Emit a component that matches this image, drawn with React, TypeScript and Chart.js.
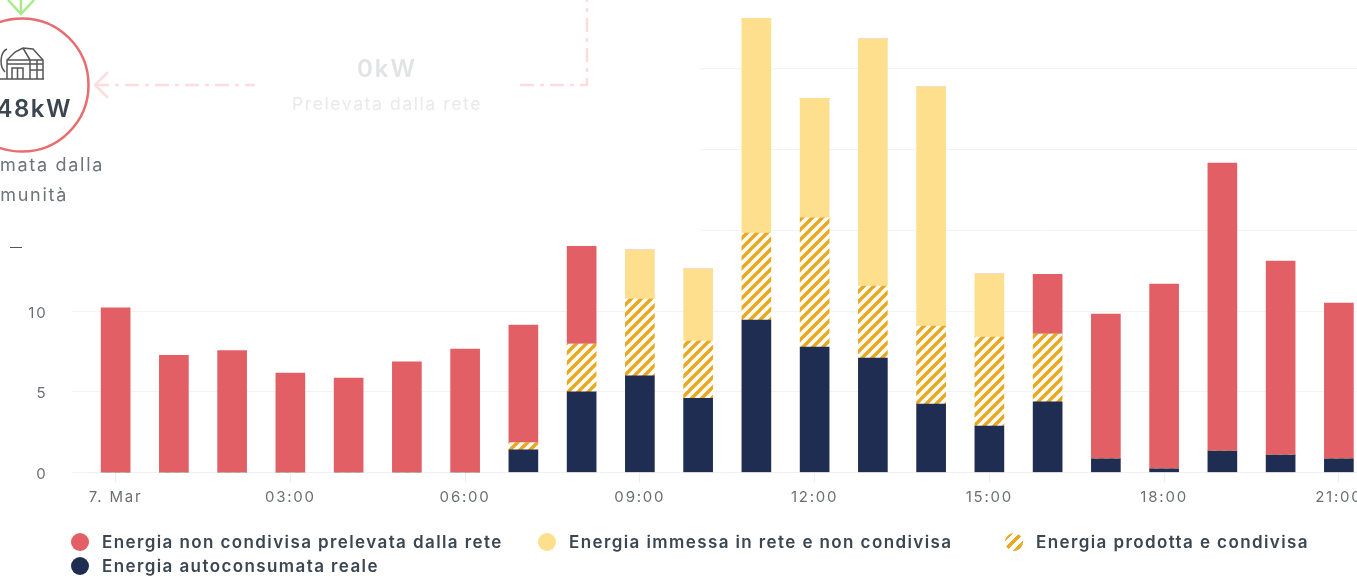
import React, { useEffect, useRef } from "react";
import { Chart, registerables } from "chart.js";

Chart.register(...registerables);

const categories = ["7. Mar","01:00","02:00","03:00","04:00","05:00","06:00","07:00","08:00","09:00","10:00","11:00","12:00","13:00","14:00","15:00","16:00","17:00","18:00","19:00","20:00","21:00"];
const autoconsumata = [0,0,0,0,0,0,0,1.4,5.0,5.98,4.6,9.44,7.77,7.09,4.24,2.88,4.37,0.84,0.22,1.33,1.08,0.84];
const condivisa = [0,0,0,0,0,0,0,0.43,2.96,4.76,3.54,5.39,8.0,4.46,4.83,5.51,4.21,0,0,0,0,0];
const immessa = [0,0,0,0,0,0,0,0,0,3.04,4.46,13.31,7.4,15.3,14.8,3.9,0,0,0,0,0,0];
const prelevata = [10.2,7.25,7.55,6.16,5.85,6.85,7.65,7.3,6.6,0,0,0,0,0,0,0,3.7,8.97,11.45,17.83,12.02,9.66];

const RED = "#E25F65";
const YELLOW = "#FDDF8E";
const NAVY = "#1F2D53";
const ORANGE = "#E9A822";
const FONT = "Inter, 'Noto Sans', sans-serif";

const legendItems = [
  { label: "Energia non condivisa prelevata dalla rete", bg: RED },
  { label: "Energia immessa in rete e non condivisa", bg: YELLOW },
  { label: "Energia prodotta e condivisa", bg: `repeating-linear-gradient(135deg, #fff 0 2px, ${ORANGE} 2px 6px, #fff 6px 8px)` },
  { label: "Energia autoconsumata reale", bg: NAVY },
];

function makeHatch(): CanvasPattern | string {
  const tile = document.createElement("canvas");
  tile.width = 10;
  tile.height = 10;
  const c = tile.getContext("2d");
  if (!c) return ORANGE;
  c.fillStyle = "#fffdf5";
  c.fillRect(0, 0, 10, 10);
  c.strokeStyle = ORANGE;
  c.lineWidth = 3.4;
  for (const d of [-10, 0, 10]) {
    c.beginPath();
    c.moveTo(d - 1, 11);
    c.lineTo(d + 11, -1);
    c.stroke();
  }
  return c.createPattern(tile, "repeat") || ORANGE;
}

const spacing = {
  id: "spacing",
  beforeDraw(chart: any) {
    chart.ctx.letterSpacing = "1.8px";
  },
};

export default function App() {
  const ref = useRef<HTMLCanvasElement>(null);
  useEffect(() => {
    if (!ref.current) return;
    const bar = { barThickness: 29, stack: "s", borderWidth: 0 };
    const chart = new Chart(ref.current, {
      type: "bar",
      plugins: [spacing],
      data: {
        labels: categories,
        datasets: [
          { label: legendItems[3].label, data: autoconsumata, backgroundColor: NAVY, ...bar },
          { label: legendItems[2].label, data: condivisa, backgroundColor: makeHatch() as any, ...bar },
          { label: legendItems[1].label, data: immessa, backgroundColor: YELLOW, ...bar },
          { label: legendItems[0].label, data: prelevata, backgroundColor: RED, ...bar },
        ],
      },
      options: {
        animation: false,
        responsive: false,
        layout: { padding: { top: 18, right: 32, left: 0, bottom: 0 } },
        plugins: { legend: { display: false }, title: { display: false }, tooltip: { enabled: false } },
        scales: {
          x: {
            stacked: true,
            afterFit(s: any) { s.height = 103.5; s.paddingLeft = 0; s.paddingRight = 0; },
            border: { color: "#f0f0f0" },
            grid: {
              offset: false,
              drawOnChartArea: false,
              tickLength: 10,
              tickColor: (ctx: any) => (ctx.index % 3 === 0 ? "#eeeeee" : "rgba(0,0,0,0)"),
            },
            ticks: {
              autoSkip: false,
              maxRotation: 0,
              padding: 6,
              color: "#6b6f75",
              font: { family: FONT, size: 15 },
              callback: (_v: any, i: number) => (i % 3 === 0 ? categories[i] : ""),
            },
          },
          y: {
            stacked: true,
            min: 0,
            max: 28.15,
            afterFit(s: any) { s.width = 86.5; s.paddingTop = 0; s.paddingBottom = 0; },
            border: { display: false },
            grid: { color: "#f3f3f3", tickColor: "#f3f3f3", tickLength: 14 },
            ticks: {
              stepSize: 5,
              includeBounds: false,
              padding: 25,
              labelOffset: 2,
              color: "#6b6f75",
              font: { family: FONT, size: 15 },
            },
          },
        },
      },
    });
    return () => chart.destroy();
  }, []);

  return (
    <div style={{ position: "absolute", left: 0, top: 0, width: 1357, height: 576, overflow: "hidden", background: "#fff", fontFamily: FONT, filter: "blur(0.45px)" }}>
      <canvas ref={ref} width={1400} height={576} style={{ position: "absolute", left: 0, top: 0, width: 1400, height: 576 }} />
      <div style={{ position: "absolute", left: 0, top: 0, width: 700, height: 246, background: "#fff" }}>
        <svg width={700} height={252} style={{ position: "absolute", left: 0, top: 0, overflow: "visible" }} fontFamily={FONT}>
          <g fill="none" stroke="#A8E98A" strokeWidth={2.5}>
            <path d="M8 0 L21 14 L34 0" />
            <path d="M21 0 L21 14" />
          </g>
          <circle cx={22} cy={85} r={66.5} fill="none" stroke="#E96C70" strokeWidth={2.5} />
          <g fill="none" stroke="#555" strokeWidth={1.5}>
            <path d="M0 79 H44 M7 79 V60 L15 52 L23 48 L33 49 L43 60 V79 M7 64 H43 M7 60 H43 M30 60 V79 M37 60 V79 M30 70 H43 M12 79 V68 H23 V79 M17.5 68 V79 M23 48 L30 60" />
            <path d="M5 72 C-1 66 0 52 7 49" />
          </g>
          <text x={72} y={117} textAnchor="end" fontSize={24} fontWeight={600} fill="#3B4650" letterSpacing={1.5}>48kW</text>
          <text x={104} y={171} textAnchor="end" fontSize={18} fill="#6F747A" letterSpacing={1.7}>mata dalla</text>
          <text x={68} y={201} textAnchor="end" fontSize={18} fill="#6F747A" letterSpacing={1.7}>munità</text>
          <g fill="none" stroke="#FBDDE0" strokeWidth={2.5}>
            <path d="M108 72 L95 85 L108 98" />
            <path d="M95 85 H255" strokeDasharray="14 6 4 6" />
            <path d="M520 85 H587 V0" strokeDasharray="14 6 4 6" />
          </g>
          <text x={387} y={77} textAnchor="middle" fontSize={24} fontWeight={600} fill="#E2E3E5" letterSpacing={2}>0kW</text>
          <text x={387} y={110} textAnchor="middle" fontSize={17.5} fill="#E8E9EA" letterSpacing={1.6}>Prelevata dalla rete</text>
          <path d="M10 247.5 H22" stroke="#555" strokeWidth={1} />
        </svg>
      </div>
      {legendItems.map((it, i) => (
        <div key={it.label} style={{ position: "absolute", left: 71 + (i % 3) * 467, top: i === 3 ? 553 : 529, height: 25, display: "flex", alignItems: "center", whiteSpace: "nowrap" }}>
          <span style={{ width: 18, height: 18, borderRadius: "50%", background: it.bg, marginRight: 13, flex: "none" }} />
          <span style={{ fontSize: 17, fontWeight: 600, letterSpacing: 1.4, color: "#3B4650" }}>{it.label}</span>
        </div>
      ))}
    </div>
  );
}
